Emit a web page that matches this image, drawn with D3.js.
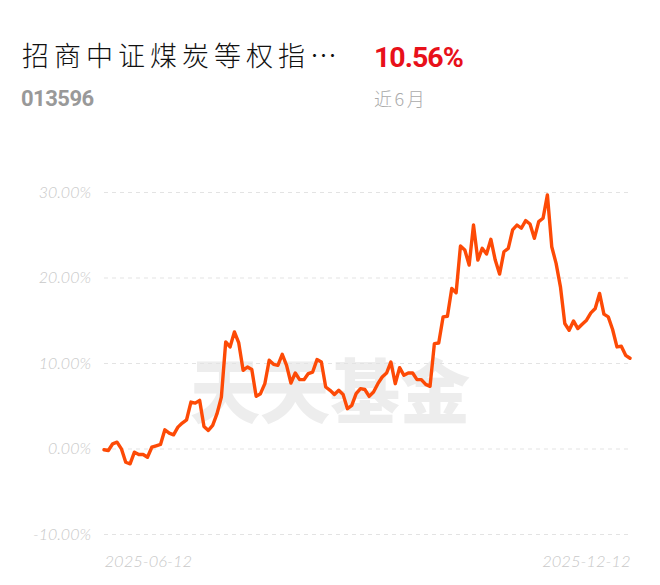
<!DOCTYPE html>
<html>
<head>
<meta charset="utf-8">
<script src="https://cdn.jsdelivr.net/npm/d3@7"></script>
<style>
  body { margin: 0; background: #fff; }
  svg { display: block; }
</style>
</head>
<body>
<div id="chart"></div>
<script>
/* fund info */
var fundName = "招商中证煤炭等权指…",
	fundCode = "013596",
	fundReturn = "10.56%",
	periodLabel = "近6月";

/* axis ticks */
var yTicks = [-10, 0, 10, 20, 30];
var dateLabels = ["2025-06-12", "2025-12-12"];

/* cumulative return (%) per trading day */
var returns = [
	-0.15, -0.23, 0.55, 0.74, -0.04, -1.61, -1.79, -0.43, -0.70, -0.70,
	-1.02, 0.15, 0.31, 0.47, 2.19, 1.79, 1.60, 2.50, 2.98, 3.36,
	5.43, 5.31, 5.63, 2.58, 2.11, 2.70, 4.07, 6.01, 12.46, 11.88,
	13.63, 12.34, 9.14, 9.53, 9.23, 6.10, 6.41, 7.58, 10.32, 9.85,
	9.73, 11.02, 9.73, 7.66, 8.83, 8.05, 8.05, 8.76, 8.94, 10.40,
	10.12, 7.19, 6.80, 6.33, 6.80, 6.33, 4.65, 5.04, 6.41, 7.00,
	6.90, 6.10, 6.60, 7.58, 8.36, 8.83, 10.12, 7.58, 9.46, 8.56,
	8.83, 8.83, 8.05, 8.05, 7.50, 7.27, 12.27, 12.34, 15.39, 15.47,
	18.72, 18.21, 23.68, 23.21, 21.45, 26.14, 22.04, 23.41, 22.74, 24.47,
	22.04, 20.40, 23.01, 23.41, 25.56, 26.14, 25.76, 26.65, 26.26, 24.58,
	26.53, 26.93, 29.66, 23.60, 21.65, 18.91, 14.62, 13.83, 14.92, 14.03,
	14.54, 15.01, 15.86, 16.38, 18.14, 15.71, 15.39, 13.92, 11.88, 11.96,
	10.90, 10.56
];

var width = 660, height = 585;
var plotLeft = 104, plotRight = 630, plotTop = 192, plotBottom = 534;

var svg = d3.select("#chart").append("svg")
	.attr("width", width)
	.attr("height", height);

// header
svg.append("text")
	.attr("x", 22).attr("y", 66)
	.attr("font-family", "'Noto Sans CJK SC', sans-serif")
	.attr("font-weight", 300)
	.attr("font-size", 27)
	.attr("letter-spacing", 5)
	.attr("fill", "#111")
	.text(fundName);

svg.append("text")
	.attr("x", 374).attr("y", 67)
	.attr("font-family", "Roboto, 'Noto Sans', sans-serif")
	.attr("font-weight", "bold")
	.attr("font-size", 28.5)
	.attr("letter-spacing", -1)
	.attr("fill", "#e8101a")
	.text(fundReturn);

svg.append("text")
	.attr("x", 21).attr("y", 106)
	.attr("font-family", "Roboto, 'Noto Sans', sans-serif")
	.attr("font-weight", "bold")
	.attr("font-size", 22)
	.attr("letter-spacing", -0.5)
	.attr("fill", "#999")
	.text(fundCode);

svg.append("text")
	.attr("x", 374).attr("y", 106)
	.attr("font-family", "'Noto Sans CJK SC', sans-serif")
	.attr("font-weight", 300)
	.attr("font-size", 18)
	.attr("letter-spacing", 2.5)
	.attr("fill", "#aaa")
	.text(periodLabel);

// scales
var x = d3.scaleLinear()
	.domain([0, returns.length - 1])
	.range([plotLeft, plotRight]);
var y = d3.scaleLinear()
	.domain([-10, 30])
	.range([plotBottom, plotTop]);

// watermark
svg.append("text")
	.attr("x", 330).attr("y", 418)
	.attr("text-anchor", "middle")
	.attr("font-family", "'Noto Sans CJK SC', sans-serif")
	.attr("font-weight", 900)
	.attr("font-size", 70)
	.attr("fill", "#ededed")
	.text("天天基金");

// grid + y labels
var yAxis = d3.axisLeft(y)
	.tickValues(yTicks)
	.tickSize(-(plotRight - plotLeft))
	.tickPadding(13)
	.tickFormat(function(d) { return d.toFixed(2) + "%"; });

var gy = svg.append("g")
	.attr("transform", "translate(" + plotLeft + ",0)")
	.call(yAxis);
gy.select(".domain").remove();
gy.selectAll(".tick line")
	.attr("stroke", "#e3e3e3")
	.attr("stroke-width", 1.2)
	.attr("stroke-dasharray", "4,4");
gy.selectAll(".tick text")
	.attr("font-family", "Lato, 'Open Sans', sans-serif")
	.attr("font-weight", 300)
	.attr("font-size", 16)
	.attr("font-style", "italic")
	.attr("fill", "#c8c8c8");

// x labels (first and last date)
var xAxis = d3.axisBottom(x)
	.tickValues([0, returns.length - 1])
	.tickSize(0)
	.tickPadding(21)
	.tickFormat(function(d, i) { return dateLabels[i]; });
var gx = svg.append("g")
	.attr("transform", "translate(0," + plotBottom + ")")
	.call(xAxis);
gx.select(".domain").remove();
gx.selectAll(".tick text")
	.attr("font-family", "Lato, 'Open Sans', sans-serif")
	.attr("font-weight", 300)
	.attr("font-size", 16.5)
	.attr("font-style", "italic")
	.attr("fill", "#c8c8c8")
	.attr("text-anchor", function(d, i) { return i ? "end" : "start"; });

// line
var line = d3.line()
	.x(function(d, i) { return x(i); })
	.y(function(d) { return y(d); });

svg.append("path")
	.datum(returns)
	.attr("fill", "none")
	.attr("stroke", "#fd4a06")
	.attr("stroke-width", 3.4)
	.attr("stroke-linejoin", "round")
	.attr("stroke-linecap", "round")
	.attr("d", line);
</script>
</body>
</html>
